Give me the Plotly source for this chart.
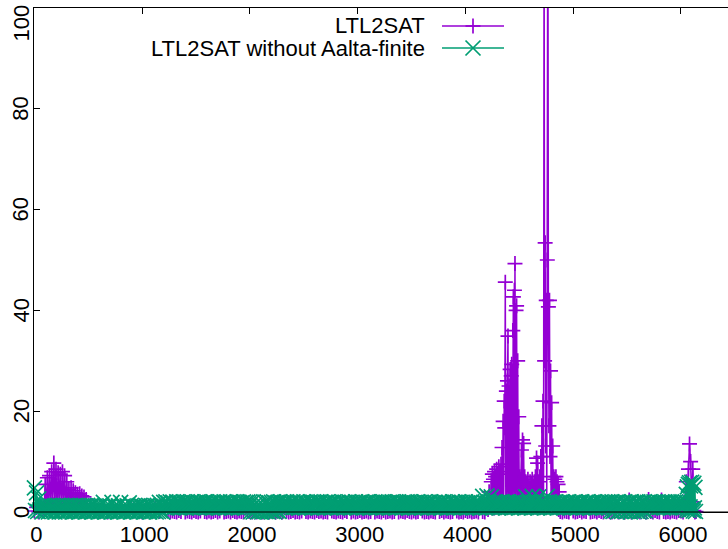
import plotly.graph_objects as go

# ---------------- canvas / layout constants ----------------
W, H = 728, 549
ML, MR, MT, MB = 34, 0, 8, 37
PLOT_W = W - ML - MR
PLOT_H = H - MT - MB

X_RANGE = [-4, 6437]
Y_RANGE = [0, 100]

PURPLE = "#9400d3"
GREEN = "#009e73"
FONT = "Liberation Sans, Arial, Helvetica, sans-serif"

x_tick_vals = [0, 1000, 2000, 3000, 4000, 5000, 6000]
x_tick_text = ["0", "1000", "2000", "3000", "4000", "5000", "6000"]
y_tick_vals = [0, 20, 40, 60, 80, 100]
y_tick_text = ["0", "20", "40", "60", "80", "100"]

series_names = ["LTL2SAT", "LTL2SAT without Aalta-finite"]

# ---------------- data (benchmark index -> value) ----------------
# LTL2SAT (purple); each segment: first benchmark index, index step, values
purple_a = [0.2, 0.9, 0.0, 1.1, 0.4]                                   # 0..80
purple_b = [1.0, 5.5, 1.0, 6.8, 1.5, 7.2, 2.0, 8.0, 1.5, 9.7,
            2.0, 8.5, 1.0, 7.8, 2.5, 7.5, 1.0, 8.0, 2.0, 7.2,
            1.5, 6.0, 1.0, 4.5, 1.5, 4.8, 1.0, 4.2, 0.8, 3.8,
            1.2, 3.5, 0.8, 3.6, 1.0, 3.2, 0.5, 3.0, 1.0, 2.5,
            0.5]                                                        # 90..490
purple_c = [0.5, 1.0, 0.2, 0.9, 0.0, 1.1, 0.3, 0.8, 0.1, 1.0,
            0.4, 0.9, 0.0, 1.2, 0.2, 0.7, 0.1, 1.0, 0.3]               # 520..1240
purple_d = [0.0, 0.2, 0.1, 0.0, 0.3, 0.1, 1.0, 0.0, 0.2, 0.1,
            0.0, 0.3, 0.1, 0.0, 0.2, 0.9, 0.1, 0.0, 0.2, 0.0,
            0.1, 0.3, 0.0, 0.2, 1.1, 0.0, 0.1, 0.2, 0.0, 0.3,
            0.1, 0.0, 0.2, 0.1, 0.0, 0.8, 0.2, 0.1, 0.0, 0.3,
            0.0, 0.1, 0.2, 0.0, 1.2, 0.1, 0.0, 0.3, 0.1, 0.0,
            0.2, 0.1, 0.0, 0.9, 0.2, 0.0, 0.1, 0.3, 0.0, 0.1,
            0.0, 0.2, 1.0, 0.1, 0.0, 0.2, 0.1, 0.0, 0.3, 0.1,
            0.2, 0.0, 0.1, 0.0, 0.8, 0.2, 0.1, 0.0, 0.2, 0.1,
            0.0, 0.3, 0.1, 1.1, 0.0, 0.2, 0.0, 0.1, 0.3, 0.0,
            0.1, 0.2, 0.0, 0.1, 0.9, 0.0, 0.2, 0.1, 0.0, 0.3,
            0.0, 0.1, 0.2, 0.0, 0.1, 1.0, 0.0, 0.2, 0.1, 0.0,
            0.3, 0.1, 0.0, 0.2, 0.0, 0.1, 0.8, 0.2, 0.0, 0.1,
            0.0, 0.2, 0.1, 0.0, 1.2, 0.1, 0.3, 0.0, 0.2, 0.1,
            0.0, 0.1, 0.9, 0.2, 0.0, 0.1, 0.0, 0.3, 0.1, 0.2,
            0.0, 0.1, 0.2, 0.0, 1.0, 0.1, 0.0]                         # 1260..4180
purple_d2 = [2.5, 0.5, 4.0, 1.0]                                        # 4200..4230
purple_e = [6.0, 1.0, 7.5, 1.5, 6.5, 0.8, 8.0, 2.0, 7.0, 1.0,
            8.5, 1.5, 7.5, 1.0, 9.0, 2.0, 8.0, 1.0, 9.5, 1.5,
            12.8, 2.0, 18.0, 1.0, 22.0, 16.7, 45.6, 1.5, 24.0, 2.0,
            26.0, 34.9, 1.0, 25.0, 2.5, 28.3, 1.5, 27.0, 29.3, 2.0,
            36.0, 42.7, 1.0, 44.0, 49.3, 2.0, 40.0, 40.9, 1.5, 30.0,
            2.0, 18.9, 1.0, 7.0, 1.5, 6.5, 12.3, 1.0, 14.3, 2.0,
            13.6, 1.5, 7.0, 1.0, 6.0, 2.0, 5.5, 1.0, 6.5, 1.5,
            5.0, 1.0, 6.0, 2.0, 5.5, 1.0, 6.5, 1.5, 5.0, 1.0,
            6.0, 2.0, 7.0, 1.0, 10.7, 1.5, 9.7, 1.0, 6.0, 2.0,
            7.0, 1.0, 11.0, 2.0, 17.1, 1.0, 22.0, 1.5, 120.0, 30.0,
            53.4, 13.1, 42.0, 1.0, 50.0, 130.0, 40.7, 17.1, 42.0, 11.0,
            28.0, 2.0, 21.7, 2.0, 13.1, 1.0, 7.0, 1.5, 6.5, 1.0,
            7.0, 2.0, 6.0, 1.0, 5.5, 0.5, 4.0]                          # 4240..4870
purple_f = [0.1, 0.0, 0.2, 0.1, 0.0, 0.9, 0.2, 0.0, 0.1, 0.3,
            0.0, 0.2, 0.1, 1.0, 0.0, 0.1, 0.2, 0.0, 0.3, 0.1,
            0.0, 0.8, 0.2, 0.1, 0.0, 0.2, 1.1, 0.0, 0.1, 0.2,
            0.0, 0.3, 2.4, 0.0, 0.1, 0.1, 0.2, 0.0, 0.9, 0.1,
            0.0, 2.5, 0.1, 0.0, 0.3, 0.1, 0.0, 2.4, 0.1, 0.0,
            0.1, 0.0, 0.2, 0.1, 0.0, 0.3]                              # 4880..5980
purple_g = [0.2, 1.0, 0.0, 2.0, 0.5, 6.0, 1.0, 8.5, 13.5, 10.0,
            2.0, 8.5, 0.3, 0.0, 0.1]                                   # 6000..6140

PURPLE_SEGMENTS = [(0, 20, purple_a), (90, 10, purple_b), (520, 40, purple_c),
                   (1260, 20, purple_d), (4200, 10, purple_d2), (4240, 5, purple_e),
                   (4880, 20, purple_f), (6000, 10, purple_g)]

# LTL2SAT without Aalta-finite (green)
green_a = [4.8, 0.3, 3.8, 0.1, 2.6, 0.4, 1.2, 0.0, 1.1, 0.2, 1.0, 0.1, 1.2, 0.0, 1.3, 0.2, 1.1, 0.1, 1.0, 0.0,
           1.2, 0.2, 1.3, 0.0, 1.1, 0.1, 1.0, 0.2, 1.2, 0.0, 1.3, 0.1, 1.1, 0.2, 1.0, 0.0, 1.2, 0.1, 1.3, 0.2,
           1.1, 0.0, 1.0, 0.1, 1.2, 0.2, 1.3, 0.0, 1.1, 0.1, 1.0, 0.2, 1.2, 0.0, 1.3, 0.1, 1.1, 0.2, 1.0, 0.0,
           1.2, 0.1, 1.3, 0.2, 1.9, 0.0, 1.1, 0.1, 1.0, 0.2, 1.2, 0.0, 1.9, 0.1, 1.1, 0.2, 1.0, 0.0, 1.2, 0.1,
           1.9, 0.2, 1.1, 0.0, 1.0, 0.1, 1.2, 0.2, 1.8, 0.0, 1.3, 0.1, 1.1, 0.2, 1.0, 0.0, 1.2, 0.1, 1.3, 0.2,
           1.1, 0.0, 1.0, 0.1, 1.2, 0.2, 1.3, 0.0, 1.1, 0.1, 1.0, 0.2, 1.2, 0.0, 1.3, 0.1, 1.9, 0.2, 1.1, 0.0]   # 0..1190
green_b = [1.9, 0.9, 2.0, 0.8, 1.8, 1.0, 2.0, 0.9, 1.9, 0.8, 1.7, 1.0, 2.0, 0.9, 1.9, 0.8, 1.8, 1.0, 2.0, 0.9,
           1.9, 0.8, 2.0, 1.0, 1.7, 0.9, 2.0, 0.8, 1.8, 1.0, 1.9, 0.9, 2.0, 0.8, 1.9, 1.0, 1.8, 0.9, 2.0, 0.8,
           2.0, 0.9, 1.8, 1.0, 1.9, 0.8, 2.0, 0.9, 1.7, 1.0, 1.9, 0.8, 2.0, 0.9, 1.8, 1.0, 2.0, 0.8, 1.9, 0.9,
           1.8, 1.0, 2.0, 0.8, 1.9, 0.9, 1.7, 1.0, 2.0, 0.8, 1.9, 0.9, 1.8, 1.0, 2.0, 0.8, 1.9, 0.9, 2.0, 1.0]   # 1200..1990
green_c = [2.0, 0.1, 1.9, 0.0, 1.4, 0.2, 1.2, 0.0, 1.3, 0.1, 1.2, 0.0, 1.4, 0.2, 1.9, 0.1, 2.0, 0.0, 1.8, 0.2,
           1.9, 0.1, 2.0, 0.0, 1.8, 0.2, 1.9, 0.1]                                                         # 2000..2270
green_d = [2.0, 0.9, 1.8, 1.0, 1.9, 0.8, 2.0, 0.9, 1.7, 1.0, 1.9, 0.8, 2.0, 0.9, 1.8, 1.0, 2.0, 0.8, 1.9, 0.9,
           1.8, 1.0, 2.0, 0.8, 1.9, 0.9, 1.7, 1.0, 2.0, 0.8, 1.9, 0.9, 1.8, 1.0, 2.0, 0.8, 1.9, 0.9, 2.0, 1.0,
           1.7, 0.8, 1.9, 0.9, 2.0, 1.0, 1.8, 0.8, 1.9, 0.9, 2.0, 1.0, 1.8, 0.8, 1.9, 0.9, 1.7, 1.0, 2.0, 0.8,
           1.9, 0.9, 1.8, 1.0, 2.0, 0.8, 1.9, 0.9, 1.7, 1.0, 2.0, 0.8, 1.8, 0.9, 1.9, 1.0, 2.0, 0.8, 1.8, 0.9,
           1.9, 1.0, 2.0, 0.8, 1.7, 0.9, 1.9, 1.0, 2.0, 0.8, 1.8, 0.9, 1.9, 1.0, 2.0, 0.8, 2.0, 0.9, 1.9, 1.0,
           1.8, 0.8, 1.9, 0.9, 2.0, 1.0, 1.7, 0.8, 1.9, 0.9, 2.0, 1.0, 1.8, 0.8, 1.9, 0.9, 1.9, 1.0, 2.0, 0.8,
           2.0, 0.9, 1.9, 1.0, 1.8, 0.8, 1.8, 0.9, 2.0, 1.0, 1.9, 0.8, 1.7, 0.9, 2.0, 1.0, 1.8, 0.8, 1.9, 0.9,
           2.0, 1.0, 1.8, 0.8, 1.9, 0.9, 1.7, 1.0, 2.0, 0.8, 1.9, 0.9, 2.0, 1.0, 1.8, 0.8, 1.9, 0.9, 1.7, 1.0,
           2.0, 0.8, 1.9, 0.9, 1.8, 1.0, 2.0, 0.8, 1.9, 0.9, 1.7, 1.0, 2.0, 0.8, 1.8, 0.9, 1.9, 1.0, 2.0, 0.8,
           1.8, 0.9, 1.9, 1.0, 2.0, 0.8, 1.7, 0.9, 3.1, 1.0, 1.9, 0.8, 3.2, 0.9, 2.0, 1.0, 3.0, 0.8, 1.9, 0.9,
           2.0, 1.0, 1.8, 0.8, 1.9, 0.9, 2.0, 1.0, 1.7, 0.8, 1.9, 0.9, 2.0, 1.0, 1.8, 0.8, 1.9, 0.9, 2.0, 1.0,
           1.8, 0.8, 1.9, 0.9, 2.0, 1.0, 1.7, 0.8, 3.0, 0.9, 1.9, 1.0, 2.0, 0.8, 3.1, 0.9, 1.8, 1.0, 1.9, 0.8,
           3.0, 0.9, 2.0, 1.0, 1.8, 0.8, 1.9, 0.9, 3.1, 1.0, 2.0, 0.8, 1.7, 0.9, 1.9, 1.0, 2.0, 0.8, 1.8, 0.9,
           1.9, 1.0, 2.0, 0.8, 1.7, 0.9, 1.9, 1.0, 2.0, 0.8, 1.8, 0.9, 1.9, 1.0, 2.0, 0.8, 1.8, 0.9, 1.9, 1.0,
           2.0, 0.8, 1.7, 0.9, 1.9, 1.0, 2.0, 0.8, 1.8, 0.9, 1.9, 1.0, 2.0, 0.8, 1.7, 0.9, 1.9, 1.0, 2.0, 0.8,
           1.8, 0.9, 1.9, 1.0, 2.0, 0.8]                                                                  # 2280..5330
green_e = [1.9, 0.2, 2.0, 0.1, 1.8, 0.3, 1.9, 0.0, 2.0, 0.2, 1.7, 0.1, 1.9, 0.3, 2.0, 0.1, 1.8, 0.2, 1.9, 0.0,
           2.0, 0.3, 1.8, 0.1, 1.9, 0.2, 2.0, 0.0, 1.7, 0.1, 1.9, 0.3, 2.0, 0.2]                               # 5340..5670
green_f = [0.9, 1.9, 1.0, 2.0, 0.8, 1.8, 0.9, 2.0, 1.0, 1.9, 0.8, 2.0, 0.9, 1.8, 1.0, 1.9, 0.8, 2.0, 0.9, 1.7,
           1.0, 2.0, 0.8, 1.9, 0.9, 1.8, 1.0, 2.0, 0.8, 1.9]                                                 # 5680..5970
green_g = [1.9, 0.9, 2.0, 0.8, 1.8, 1.0, 2.0]                                                             # 5980..6040
green_h = [3.5, 0.4, 5.0, 0.8, 5.5, 0.3, 5.8, 1.0, 5.2, 0.5,
           5.9, 0.6, 5.4, 0.2, 5.7, 0.8, 4.9, 0.1]                                                        # 6050..6135

GREEN_SEGMENTS = [(0, 10, green_a), (1200, 10, green_b), (2000, 10, green_c),
                  (2280, 10, green_d), (5340, 10, green_e), (5680, 10, green_f),
                  (5980, 10, green_g), (6050, 5, green_h)]


def expand(segments):
    xs, ys = [], []
    for start, step, vals in segments:
        for i, v in enumerate(vals):
            xs.append(start + step * i)
            ys.append(v)
    return xs, ys


px, py = expand(PURPLE_SEGMENTS)
gx, gy = expand(GREEN_SEGMENTS)

fig = go.Figure()

# purple: lines (clipped) then points (unclipped, like gnuplot)
fig.add_trace(go.Scatter(x=px, y=py, mode="lines", name=series_names[0],
                         line=dict(color=PURPLE, width=1.5), cliponaxis=True,
                         showlegend=False, hoverinfo="skip"))
fig.add_trace(go.Scatter(x=px, y=py, mode="markers", name=series_names[0],
                         marker=dict(symbol="cross-thin", size=10.7,
                                     line=dict(color=PURPLE, width=1.7)),
                         cliponaxis=False, showlegend=False))
# green
fig.add_trace(go.Scatter(x=gx, y=gy, mode="lines", name=series_names[1],
                         line=dict(color=GREEN, width=1.5), cliponaxis=True,
                         showlegend=False, hoverinfo="skip"))
fig.add_trace(go.Scatter(x=gx, y=gy, mode="markers", name=series_names[1],
                         marker=dict(symbol="x-thin", size=15,
                                     line=dict(color=GREEN, width=1.7)),
                         cliponaxis=False, showlegend=False))


def pxx(x):
    return (x - ML) / PLOT_W


def pxy(y):
    return (H - MB - y) / PLOT_H


shapes = []
annotations = []

# bottom border drawn above the data (as gnuplot does)
shapes.append(dict(type="line", xref="paper", yref="paper", x0=0, x1=1, y0=0, y1=0,
                   line=dict(color="black", width=1), layer="above"))

# y tick labels, rotated like gnuplot
for v, t in zip(y_tick_vals, y_tick_text):
    if v == Y_RANGE[1]:
        annotations.append(dict(x=pxx(21), y=pxy(3), xref="paper", yref="paper",
                                text=t, textangle=-90, showarrow=False,
                                xanchor="center", yanchor="top",
                                font=dict(family=FONT, size=22, color="black")))
    else:
        annotations.append(dict(x=pxx(21), y=v, xref="paper", yref="y",
                                text=t, textangle=-90, showarrow=False,
                                xanchor="center", yanchor="middle",
                                font=dict(family=FONT, size=22, color="black")))

# key (gnuplot style: text right-aligned, sample on the right)
key_rows = [(26, PURPLE, "plus"), (48, GREEN, "x")]
for (ky, col, sym), name in zip(key_rows, series_names):
    annotations.append(dict(x=pxx(427), y=pxy(ky), xref="paper", yref="paper",
                            text=name, showarrow=False, xanchor="right",
                            yanchor="middle",
                            font=dict(family=FONT, size=22, color="black")))
    shapes.append(dict(type="line", xref="paper", yref="paper",
                       x0=pxx(442), x1=pxx(504), y0=pxy(ky), y1=pxy(ky),
                       line=dict(color=col, width=1.5)))
    cx, r = 473, 7.5
    if sym == "plus":
        segs = [(cx - r, ky, cx + r, ky), (cx, ky - r, cx, ky + r)]
    else:
        segs = [(cx - r, ky - r, cx + r, ky + r), (cx - r, ky + r, cx + r, ky - r)]
    for a0, b0, a1, b1 in segs:
        shapes.append(dict(type="line", xref="paper", yref="paper",
                           x0=pxx(a0), x1=pxx(a1), y0=pxy(b0), y1=pxy(b1),
                           line=dict(color=col, width=1.7)))

fig.update_layout(
    width=W, height=H,
    margin=dict(l=ML, r=MR, t=MT, b=MB, pad=0),
    paper_bgcolor="white", plot_bgcolor="white",
    showlegend=False,
    font=dict(family=FONT, size=22, color="black"),
    shapes=shapes, annotations=annotations,
    xaxis=dict(range=X_RANGE, tickvals=x_tick_vals, ticktext=x_tick_text,
               ticks="inside", ticklen=6, tickwidth=1, tickcolor="black",
               showline=True, linecolor="black", linewidth=1, mirror="ticks",
               showgrid=False, zeroline=False, layer="below traces",
               ticklabelstandoff=3, ticklabelshift=2,
               tickfont=dict(family=FONT, size=22, color="black")),
    yaxis=dict(range=Y_RANGE, tickvals=y_tick_vals, showticklabels=False,
               ticks="inside", ticklen=6, tickwidth=1, tickcolor="black",
               showline=True, linecolor="black", linewidth=1, mirror=False,
               showgrid=False, zeroline=False),
)

fig.write_html("out.html")
